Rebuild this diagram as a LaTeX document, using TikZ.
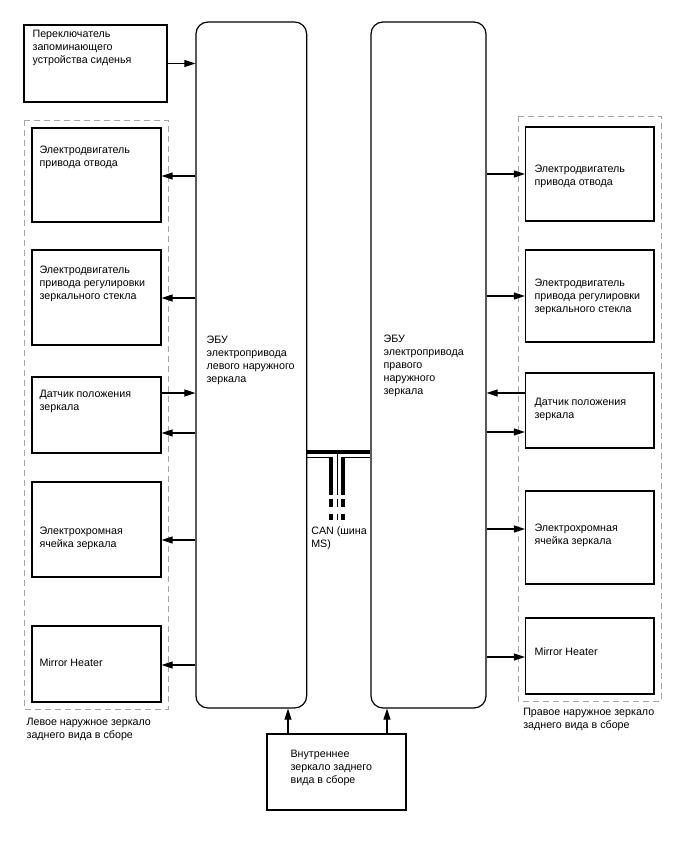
\documentclass[tikz,border=0pt]{standalone}
\usepackage{fontspec}
\setmainfont{Liberation Sans}
\usetikzlibrary{arrows.meta}
\begin{document}
\begin{tikzpicture}[
  x=1pt,y=-1pt,every node/.style={font=\fontsize{10.7}{13}\selectfont},
  every path/.style={line width=1.2pt},
  unit/.style={draw,inner sep=0pt,minimum width=129pt},
  ecu/.style={draw,rounded corners=12pt,inner sep=0pt,minimum height=686pt},
  txt/.style={anchor=west,align=left,inner sep=0pt},
  sig/.style={-{Triangle[length=11pt,width=7pt]}},
  grp/.style={draw=gray!70,dash pattern=on 6pt off 4pt,line width=0.9pt}]
  \useasboundingbox (0,0) rectangle (688,852);

  % the two mirror ECUs
  \node[ecu,minimum width=110.7pt] (ecuL) at (251.3,365) {};
  \node[ecu,minimum width=115pt] (ecuR) at (428.5,365) {};
  \node[txt] (ecuLt) at (206,360) {ЭБУ\\электропривода\\левого наружного\\зеркала};
  \node[txt] (ecuRt) at (383,366.3) {ЭБУ\\электропривода\\правого\\наружного\\зеркала};

  % seat memory switch
  \node[unit,minimum width=143pt,minimum height=77pt] (seat) at (95.5,63.5) {};
  \node[txt] (seatt) at (32,48.3) {Переключатель\\запоминающего\\устройства сиденья};
  \draw[sig] (seat.east) -- (ecuL.west |- seat.east);

  % left outside mirror assembly
  \draw[grp] (24,120) rectangle (168,709);
  \foreach \n/\y/\h in {1/175/94,2/297.5/95,3/415/76,4/529.5/95,5/664/76}
    \node[unit,minimum height=\h pt] (lm\n) at (96.5,\y) {};
  \foreach \n/\y/\t in {1/157.5/{Электродвигатель\\привода отвода},
      2/284/{Электродвигатель\\привода регулировки\\зеркального стекла},
      3/401.3/{Датчик положения\\зеркала},
      4/538/{Электрохромная\\ячейка зеркала},
      5/662.3/{Mirror Heater}}
    \node[txt] (lm\n t) at (39,\y) {\t};
  \foreach \n/\y in {1/176,2/298,3/433,4/540,5/665}
    \draw[sig] (ecuL.west |- 0,\y) -- (lm\n.east |- 0,\y);
  \draw[sig] (lm3.east |- 0,393) -- (ecuL.west |- 0,393);
  \node[txt] (lgrp) at (26,729.5) {Левое наружное зеркало\\заднего вида в сборе};

  % right outside mirror assembly
  \draw[grp] (518,116) rectangle (661,701);
  \foreach \n/\y/\h in {1/174/94,2/296/92,3/410.5/75,4/537.5/93,5/656/76}
    \node[unit,minimum width=128.5pt,minimum height=\h pt] (rm\n) at (589.8,\y) {};
  \foreach \n/\y/\t in {1/176.5/{Электродвигатель\\привода отвода},
      2/296.5/{Электродвигатель\\привода регулировки\\зеркального стекла},
      3/409.5/{Датчик положения\\зеркала},
      4/535.5/{Электрохромная\\ячейка зеркала},
      5/651.7/{Mirror Heater}}
    \node[txt] (rm\n t) at (534,\y) {\t};
  \foreach \n/\y in {1/174,2/296,3/432,4/529,5/657}
    \draw[sig] (ecuR.east |- 0,\y) -- (rm\n.west |- 0,\y);
  \draw[sig] (rm3.west |- 0,393) -- (ecuR.east |- 0,393);
  \node[txt] (rgrp) at (522.7,719.5) {Правое наружное зеркало\\заднего вида в сборе};

  % inside rear view mirror
  \node[unit,minimum width=139pt,minimum height=76pt] (inner) at (336.5,772) {};
  \node[txt] (innert) at (290,768) {Внутреннее\\зеркало заднего\\вида в сборе};
  \draw[sig] (inner.north -| 288,0) -- (ecuL.south -| 288,0);
  \draw[sig] (inner.north -| 387,0) -- (ecuR.south -| 387,0);

  % CAN (MS) bus between the ECUs
  \draw[line width=4pt] (ecuL.east |- 0,452) -- (ecuR.west |- 0,452);
  \draw[line width=1.6pt] (ecuL.east |- 0,457.5) -- (329.3,457.5)
    (345,457.5) -- (ecuR.west |- 0,457.5);
  \draw[line width=4pt] (331.3,456.7) -- (331.3,495) (343.3,456.7) -- (343.3,495);
  \draw[line width=1.6pt] (337.5,452) -- (337.5,495);
  \foreach \a/\b in {499/507,514/520} {
    \draw[line width=4pt] (331.3,\a) -- (331.3,\b) (343.3,\a) -- (343.3,\b);
    \draw[line width=1.6pt] (337.5,\a) -- (337.5,\b);
  }
  \node[txt] (cant) at (310.7,538) {CAN (шина\\MS)};
\end{tikzpicture}
\end{document}
